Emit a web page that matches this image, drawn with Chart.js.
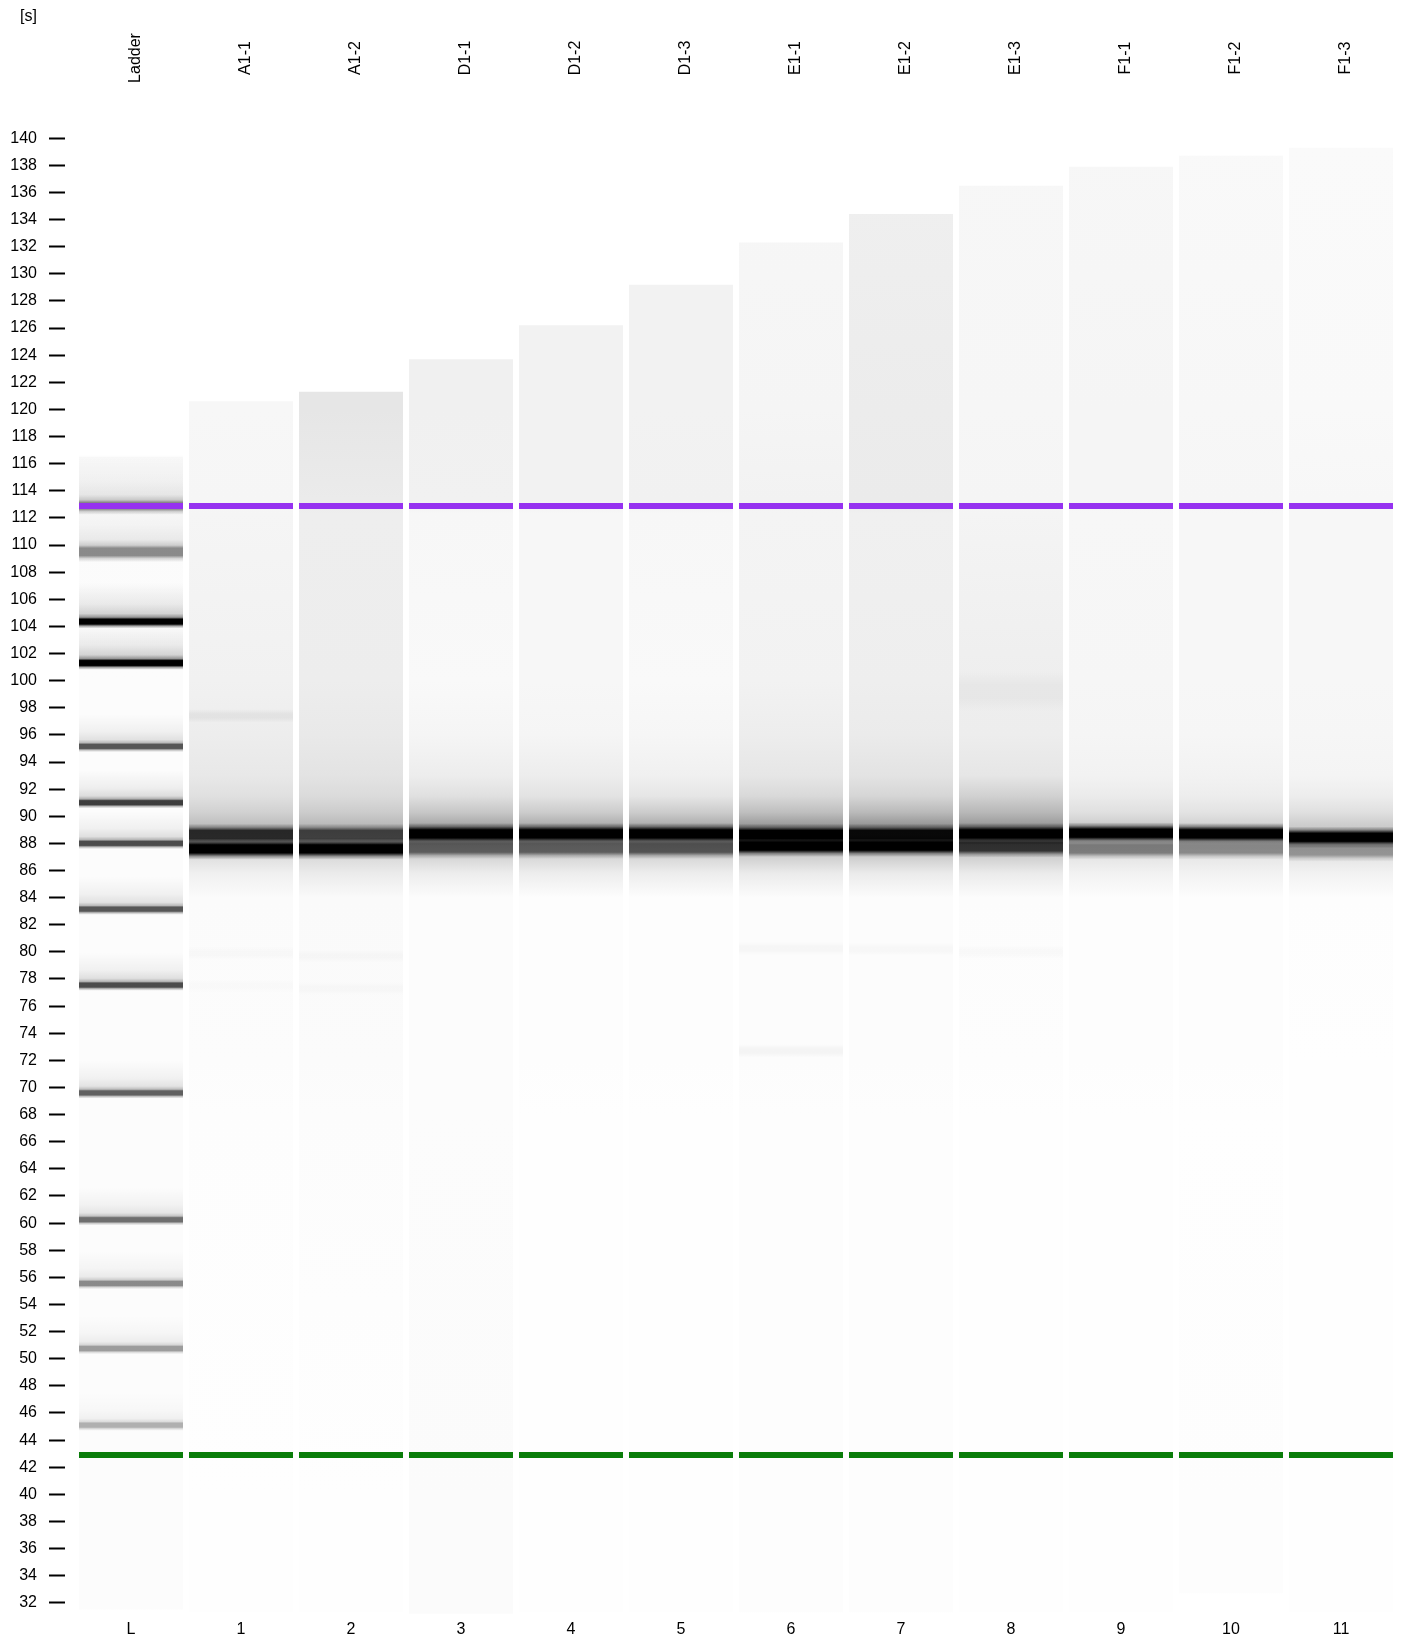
<!DOCTYPE html>
<html>
<head>
<meta charset="utf-8">
<script src="https://cdn.jsdelivr.net/npm/chart.js@4.4.1/dist/chart.umd.min.js"></script>
<style>
  html, body { margin: 0; padding: 0; background: #fff; }
  #gel { display: block; }
</style>
</head>
<body>
<canvas id="gel" width="1403" height="1640"></canvas>
<script>
// lanes
var laneLabels = ['L', '1', '2', '3', '4', '5', '6', '7', '8', '9', '10', '11'];
var laneNames = ['Ladder', 'A1-1', 'A1-2', 'D1-1', 'D1-2', 'D1-3', 'E1-1', 'E1-2', 'E1-3', 'F1-1', 'F1-2', 'F1-3'];
var yTicks = [32, 34, 36, 38, 40, 42, 44, 46, 48, 50, 52, 54, 56, 58, 60, 62, 64, 66, 68, 70,
              72, 74, 76, 78, 80, 82, 84, 86, 88, 90, 92, 94, 96, 98, 100, 102, 104, 106, 108, 110,
              112, 114, 116, 118, 120, 122, 124, 126, 128, 130, 132, 134, 136, 138, 140];

// run window of every lane [s]
var laneTop = [116.5, 120.6, 121.3, 123.7, 126.2, 129.2, 132.3, 134.4, 136.5, 137.9, 138.7, 139.3];
var laneBottom = [31.5, 31.3, 31.3, 31.2, 31.3, 31.3, 31.3, 31.3, 31.3, 31.3, 32.7, 31.3];

// alignment markers
var upperMarker = 112.87;
var lowerMarker = 42.9;

// ladder peaks
var ladderTimes = [112.9, 109.5, 104.35, 101.3, 95.15, 91.0, 88.0, 83.15, 77.55, 69.6, 60.25, 55.55, 50.75, 45.1];
var ladderPeak = [0.45, 0.45, 1, 1, 0.66, 0.76, 0.7, 0.66, 0.7, 0.62, 0.56, 0.45, 0.38, 0.3];

// sample peaks, lanes 1..11
var upperTime = [88.65, 88.65, 88.7, 88.7, 88.7, 88.65, 88.65, 88.7, 88.75, 88.7, 88.45];
var upperPeak = [0.8, 0.68, 1, 1, 1, 1, 0.95, 1, 1, 1, 1];
var lowerTime = [87.6, 87.6, 87.65, 87.65, 87.65, 87.8, 87.8, 87.75, 87.6, 87.6, 87.45];
var lowerPeak = [1, 1, 0.55, 0.55, 0.6, 1, 1, 0.75, 0.45, 0.4, 0.35];

// weak peaks
var faintLane = ['1', '8', '6', '6', '7', '1', '2', '8', '1', '2'];
var faintTime = [97.4, 99.2, 72.7, 80.25, 80.2, 79.9, 79.7, 80.0, 77.5, 77.3];
var faintPeak = [0.05, 0.03, 0.03, 0.025, 0.02, 0.015, 0.02, 0.015, 0.012, 0.015];

// background signal of every lane at these times
var profileTimes = [40, 68, 72, 84, 85.8, 89.3, 90.3, 91.5, 93, 96, 100, 112.3, 113.4, 120, 140];
var laneProfile = [
  [0.012, 0.012, 0.012, 0.012, 0.012, 0.012, 0.012, 0.012, 0.012, 0.012, 0.012, 0.015, 0.03, 0.02, 0.02],
  [0.004, 0.006, 0.012, 0.014, 0.06, 0.26, 0.18, 0.12, 0.09, 0.07, 0.055, 0.04, 0.035, 0.03, 0.03],
  [0.004, 0.01, 0.016, 0.018, 0.08, 0.28, 0.2, 0.14, 0.11, 0.085, 0.07, 0.065, 0.08, 0.1, 0.1],
  [0.015, 0.012, 0.01, 0.01, 0.07, 0.35, 0.22, 0.12, 0.07, 0.04, 0.025, 0.03, 0.055, 0.06, 0.06],
  [0.004, 0.005, 0.006, 0.008, 0.07, 0.33, 0.2, 0.11, 0.07, 0.04, 0.03, 0.03, 0.05, 0.05, 0.05],
  [0.004, 0.005, 0.006, 0.008, 0.07, 0.33, 0.2, 0.1, 0.06, 0.035, 0.025, 0.03, 0.055, 0.05, 0.05],
  [0.006, 0.008, 0.01, 0.012, 0.08, 0.4, 0.25, 0.15, 0.1, 0.07, 0.05, 0.045, 0.05, 0.04, 0.03],
  [0.006, 0.008, 0.01, 0.012, 0.08, 0.42, 0.27, 0.16, 0.11, 0.08, 0.065, 0.06, 0.08, 0.075, 0.06],
  [0.004, 0.005, 0.008, 0.01, 0.08, 0.4, 0.28, 0.18, 0.1, 0.07, 0.065, 0.045, 0.04, 0.035, 0.03],
  [0.004, 0.005, 0.006, 0.008, 0.05, 0.2, 0.12, 0.08, 0.05, 0.04, 0.035, 0.03, 0.04, 0.04, 0.03],
  [0.006, 0.005, 0.006, 0.008, 0.05, 0.18, 0.11, 0.07, 0.05, 0.035, 0.03, 0.03, 0.035, 0.03, 0.025],
  [0.003, 0.004, 0.005, 0.008, 0.05, 0.2, 0.12, 0.07, 0.045, 0.035, 0.03, 0.03, 0.03, 0.025, 0.02]
];

// band shapes: [offset in s, relative strength]
var ladderShape = [[-0.42, 0], [-0.27, 0.35], [-0.15, 1], [0.15, 1], [0.27, 0.4], [0.5, 0.16], [1.1, 0.07], [2.4, 0]];
var sampleShape = [[-0.8, 0], [-0.55, 0.35], [-0.3, 1], [0.3, 1], [0.55, 0.35], [0.8, 0]];
var faintShape = [[-0.5, 0], [-0.15, 1], [0.15, 1], [0.5, 0]];
var ladderSpread = [1.6, 1.8, 1.2, 1.2, 1, 1, 1, 1, 1, 1, 1, 1, 1, 1];
var faintSpread = [1, 3, 1, 1, 1, 1, 1, 1, 1, 1];
var markerHalf = 0.22;

function grey(v) {
  var c = Math.round(255 - 255 * v);
  return 'rgb(' + c + ',' + c + ',' + c + ')';
}

function bandSpan(t, shape, s) {
  return [t + shape[0][0] * s, t + shape[shape.length - 1][0] * s];
}

function bandFill(ctx, t, peak, shape, s) {
  var chart = ctx.chart;
  if (!chart.chartArea || ctx.type !== 'data') return 'rgba(0,0,0,0)';
  var y = chart.scales.y;
  var lo = t + shape[0][0] * s, hi = t + shape[shape.length - 1][0] * s;
  var g = chart.ctx.createLinearGradient(0, y.getPixelForValue(lo), 0, y.getPixelForValue(hi));
  shape.forEach(function (p) {
    g.addColorStop((p[0] - shape[0][0]) / (shape[shape.length - 1][0] - shape[0][0]),
      'rgba(0,0,0,' + (peak * p[1]).toFixed(3) + ')');
  });
  return g;
}

function laneFill(ctx) {
  var chart = ctx.chart;
  if (!chart.chartArea || ctx.type !== 'data') return '#fcfcfc';
  var y = chart.scales.y;
  var g = chart.ctx.createLinearGradient(0, y.getPixelForValue(y.min), 0, y.getPixelForValue(y.max));
  var prof = laneProfile[ctx.dataIndex];
  profileTimes.forEach(function (t, k) {
    g.addColorStop((t - y.min) / (y.max - y.min), grey(prof[k]));
  });
  return g;
}

var sampleLanes = laneLabels.slice(1);

var laneTitles = {
  id: 'laneTitles',
  afterDraw: function (chart) {
    var c = chart.ctx, x = chart.scales.x;
    c.save();
    c.fillStyle = '#000';
    c.font = '16px "Liberation Sans"';
    c.textAlign = 'left';
    c.textBaseline = 'middle';
    c.fillText('[s]', 20, 17);
    c.textAlign = 'center';
    c.textBaseline = 'alphabetic';
    laneNames.forEach(function (name, i) {
      c.save();
      c.translate(x.getPixelForValue(i) + 9, 58);
      c.rotate(-Math.PI / 2);
      c.fillText(name, 0, 0);
      c.restore();
    });
    c.restore();
  }
};

var chart = new Chart(document.getElementById('gel'), {
  type: 'bar',
  data: {
    labels: laneLabels,
    datasets: [
      {
        label: 'markers upper',
        order: 1,
        backgroundColor: '#9632f0',
        data: laneLabels.map(function () { return [upperMarker - markerHalf, upperMarker + markerHalf]; })
      },
      {
        label: 'markers lower',
        order: 1,
        backgroundColor: '#0a7d0a',
        data: laneLabels.map(function () { return [lowerMarker - markerHalf, lowerMarker + markerHalf]; })
      },
      {
        label: 'upper peak',
        order: 3,
        data: sampleLanes.map(function (l, i) { return { x: l, y: bandSpan(upperTime[i], sampleShape, 1) }; }),
        backgroundColor: function (ctx) {
          return bandFill(ctx, upperTime[ctx.dataIndex], upperPeak[ctx.dataIndex], sampleShape, 1);
        }
      },
      {
        label: 'lower peak',
        order: 3,
        data: sampleLanes.map(function (l, i) { return { x: l, y: bandSpan(lowerTime[i], sampleShape, 1) }; }),
        backgroundColor: function (ctx) {
          return bandFill(ctx, lowerTime[ctx.dataIndex], lowerPeak[ctx.dataIndex], sampleShape, 1);
        }
      },
      {
        label: 'ladder',
        order: 3,
        data: ladderTimes.map(function (t, i) { return { x: 'L', y: bandSpan(t, ladderShape, ladderSpread[i]) }; }),
        backgroundColor: function (ctx) {
          var i = ctx.dataIndex;
          return bandFill(ctx, ladderTimes[i], ladderPeak[i], ladderShape, ladderSpread[i]);
        }
      },
      {
        label: 'weak peaks',
        order: 4,
        data: faintLane.map(function (l, i) { return { x: l, y: bandSpan(faintTime[i], faintShape, faintSpread[i]) }; }),
        backgroundColor: function (ctx) {
          var i = ctx.dataIndex;
          return bandFill(ctx, faintTime[i], faintPeak[i], faintShape, faintSpread[i]);
        }
      },
      {
        label: 'lanes',
        order: 5,
        data: laneLabels.map(function (l, i) { return [laneBottom[i], laneTop[i]]; }),
        backgroundColor: laneFill
      }
    ]
  },
  options: {
    responsive: false,
    devicePixelRatio: 1,
    animation: false,
    layout: { padding: { top: 124.6, left: 10.3, right: 7, bottom: 0 } },
    datasets: {
      bar: {
        grouped: false,
        categoryPercentage: 1,
        barPercentage: 0.9455,
        borderWidth: 0,
        inflateAmount: 0
      }
    },
    plugins: {
      legend: { display: false },
      tooltip: { enabled: false },
      title: { display: false }
    },
    scales: {
      x: {
        grid: { display: false, drawTicks: false },
        border: { display: false },
        ticks: { color: '#000', padding: 4, font: { family: 'Liberation Sans', size: 16 } },
        afterFit: function (s) { s.height = 23.6; }
      },
      y: {
        min: 31,
        max: 141,
        afterBuildTicks: function (s) {
          s.ticks = yTicks.map(function (v) { return { value: v }; });
        },
        afterFit: function (s) { s.width = 65.7; },
        grid: {
          drawOnChartArea: false,
          drawTicks: true,
          tickLength: 27,
          tickWidth: 2,
          tickColor: '#000',
          tickBorderDash: [16, 40]
        },
        border: { display: false },
        ticks: { color: '#000', padding: 12, font: { family: 'Liberation Sans', size: 16 } }
      }
    }
  },
  plugins: [laneTitles]
});
</script>
</body>
</html>
